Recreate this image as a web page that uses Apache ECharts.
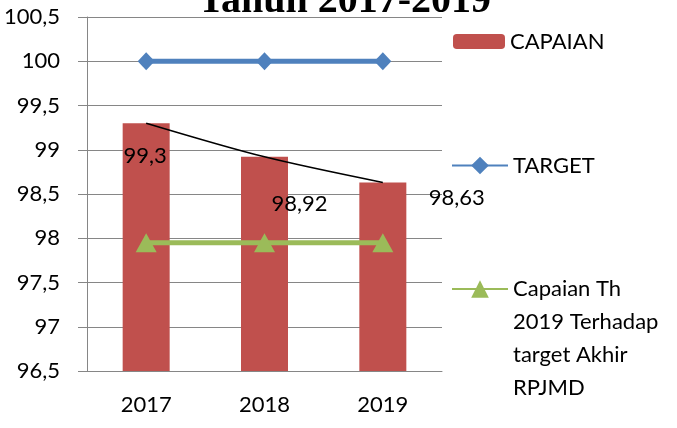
<!DOCTYPE html>
<html>
<head>
<meta charset="utf-8">
<script src="https://cdn.jsdelivr.net/npm/echarts@6/dist/echarts.min.js"></script>
<style>
  html, body { margin: 0; padding: 0; background: #fff; }
  #chart { width: 677px; height: 428px; }
</style>
</head>
<body>
<div id="chart"></div>
<script>
const years = ['2017', '2018', '2019'];
const capaian = [99.3, 98.92, 98.63];
const target = [100, 100, 100];
const capaianAkhir = [97.95, 97.95, 97.95];
const yTicks = { min: 96.5, max: 100.5, step: 0.5 };

const nameBar = 'CAPAIAN';
const nameTarget = 'TARGET';
const nameAkhir = 'Capaian Th\n2019 Terhadap\ntarget Akhir\nRPJMD';

const font = 'Lato';
const gray = '#868686';
const comma = v => String(v).replace('.', ',');

// label nudges, the way they were dragged around in the source chart
const labelOffsets = [[-1, 33], [35, 47], [74, 15]];

const chart = echarts.init(document.getElementById('chart'));

let option = {
  animation: false,
  title: {
    text: 'Tahun 2017-2019',
    left: 198,
    top: -18,
    padding: 0,
    textStyle: {
      fontFamily: 'Liberation Serif',
      fontWeight: 'bold',
      fontSize: 40,
      color: '#000'
    }
  },
  grid: {
    left: 87,
    right: 235,
    top: 17,
    bottom: 57,
    containLabel: false,
    outerBoundsMode: 'none'
  },
  legend: [
    {
      data: [nameBar],
      orient: 'vertical',
      left: 453,
      top: 25,
      padding: 0,
      itemWidth: 52,
      itemHeight: 15,
      textStyle: { fontFamily: font, fontSize: 22, color: '#000', lineHeight: 33 }
    },
    {
      data: [nameTarget],
      orient: 'vertical',
      left: 451,
      top: 149,
      padding: 0,
      itemWidth: 56,
      itemHeight: 22,
      textStyle: { fontFamily: font, fontSize: 22, color: '#000', lineHeight: 33 }
    },
    {
      // blank lines on top so the marker sits beside the first line
      data: [nameAkhir],
      orient: 'vertical',
      left: 451,
      top: 173.5,
      padding: 0,
      itemWidth: 56,
      itemHeight: 22,
      formatter: name => '\n\n\n' + name,
      textStyle: { fontFamily: font, fontSize: 22, color: '#000', lineHeight: 33 }
    }
  ],
  xAxis: {
    type: 'category',
    data: years,
    axisLine: { lineStyle: { color: gray } },
    axisTick: { length: 8, lineStyle: { color: gray } },
    axisLabel: { fontFamily: font, fontSize: 22, color: '#000', margin: 23 }
  },
  yAxis: {
    type: 'value',
    min: yTicks.min,
    max: yTicks.max,
    interval: yTicks.step,
    axisLine: { show: true, lineStyle: { color: gray } },
    axisTick: { show: true, length: 9, lineStyle: { color: gray } },
    splitLine: { lineStyle: { color: gray } },
    axisLabel: { fontFamily: font, fontSize: 22, color: '#000', margin: 27, formatter: comma }
  },
  series: [
    {
      name: nameBar,
      type: 'bar',
      barWidth: 47,
      itemStyle: { color: '#C0504D' },
      data: capaian.map((v, i) => ({
        value: v,
        label: { offset: labelOffsets[i] }
      })),
      label: {
        show: true,
        position: 'top',
        distance: 0,
        verticalAlign: 'middle',
        fontFamily: font,
        fontSize: 22,
        color: '#000',
        formatter: p => comma(p.value)
      },
      z: 2
    },
    {
      name: nameTarget,
      type: 'line',
      data: target,
      symbol: 'diamond',
      symbolSize: [17, 18],
      lineStyle: { color: '#4F81BD', width: 5 },
      itemStyle: { color: '#4F81BD' },
      z: 3
    },
    {
      name: nameAkhir,
      type: 'line',
      data: capaianAkhir,
      symbol: 'triangle',
      symbolSize: [21, 19],
      lineStyle: { color: '#9BBB59', width: 5 },
      itemStyle: { color: '#9BBB59' },
      z: 3
    },
    {
      name: 'trend',
      type: 'line',
      data: capaian,
      smooth: 0.3,
      symbol: 'none',
      lineStyle: { color: '#000', width: 1.5 },
      silent: true,
      z: 4
    }
  ]
};

chart.setOption(option);
</script>
</body>
</html>
